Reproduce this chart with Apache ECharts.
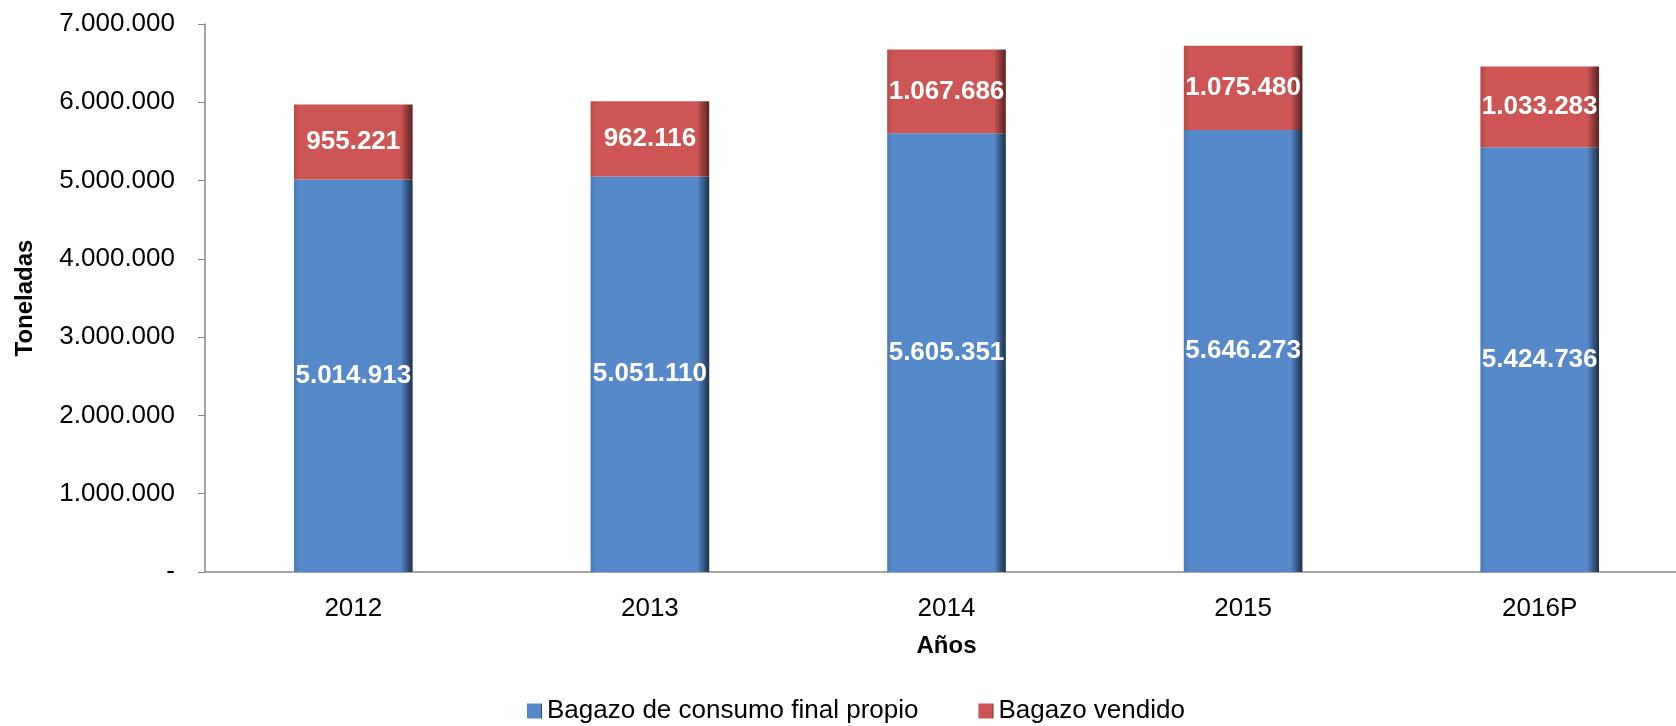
<!DOCTYPE html>
<html>
<head>
<meta charset="utf-8">
<script src="https://fastly.jsdelivr.net/npm/echarts@6/dist/echarts.min.js"></script>
<style>
html, body { margin: 0; padding: 0; background: #fff; }
#chart { width: 1676px; height: 726px; }
</style>
</head>
<body>
<div id="chart"></div>
<script>
const years = [ '2012', '2013', '2014', '2015', '2016P' ]
const propio = [ 5014913, 5051110, 5605351, 5646273, 5424736 ]
const vendido = [ 955221, 962116, 1067686, 1075480, 1033283 ]
const seriesNames = [ 'Bagazo de consumo final propio', 'Bagazo vendido' ]

const font = '"Liberation Sans", Arial, sans-serif'
const fmt = v => v === 0 ? '-' : String( v ).replace( /\B(?=(\d{3})+(?!\d))/g, '.' )

const bevel = ( edge, base, dark ) => new echarts.graphic.LinearGradient( 0, 0, 1, 0, [
	{ offset: 0, color: edge },
	{ offset: 0.05, color: base },
	{ offset: 0.9, color: base },
	{ offset: 1, color: dark }
] )

const chart = echarts.init( document.getElementById( 'chart' ), null, { renderer: 'canvas' } )

const label = {
	show: true,
	position: 'inside',
	color: '#fff',
	fontWeight: 'bold',
	fontSize: 26,
	fontFamily: font,
	formatter: p => fmt( p.value )
}

chart.setOption( {
	animation: false,
	textStyle: { fontFamily: font },
	grid: { left: 205, right: -12, top: 24, bottom: 154, outerBoundsMode: 'none', containLabel: false },
	legend: {
		left: 522,
		bottom: -3,
		itemGap: 60,
		itemWidth: 15,
		itemHeight: 15,
		icon: 'rect',
		textStyle: { fontSize: 26, color: '#000', fontFamily: font },
		data: seriesNames
	},
	xAxis: {
		type: 'category',
		data: years,
		name: 'Años',
		nameLocation: 'middle',
		nameGap: 62,
		nameTextStyle: { fontSize: 24, fontWeight: 'bold', color: '#000', fontFamily: font },
		axisLine: { lineStyle: { color: '#868686', width: 1.5 } },
		axisTick: { length: 7, lineStyle: { color: '#868686' } },
		axisLabel: { fontSize: 26, color: '#000', margin: 24, fontFamily: font }
	},
	yAxis: {
		type: 'value',
		min: 0,
		max: 7000000,
		interval: 1000000,
		name: 'Toneladas',
		nameLocation: 'middle',
		nameGap: 168,
		nameTextStyle: { fontSize: 24, fontWeight: 'bold', color: '#000', fontFamily: font },
		splitLine: { show: false },
		axisLine: { show: true, lineStyle: { color: '#868686', width: 1.5 } },
		axisTick: { show: true, inside: false, length: 7, lineStyle: { color: '#868686' } },
		axisLabel: { fontSize: 26, color: '#000', margin: 30, formatter: fmt, fontFamily: font }
	},
	series: [
		{
			name: seriesNames[ 0 ],
			type: 'bar',
			stack: 'total',
			barWidth: '40%',
			data: propio,
			itemStyle: { color: bevel( '#4a7ab8', '#5589c9', '#1c2f48' ) },
			label
		},
		{
			name: seriesNames[ 1 ],
			type: 'bar',
			stack: 'total',
			barWidth: '40%',
			data: vendido,
			itemStyle: { color: bevel( '#b64a48', '#cd5553', '#5a2221' ) },
			label
		}
	]
} )
</script>
</body>
</html>
